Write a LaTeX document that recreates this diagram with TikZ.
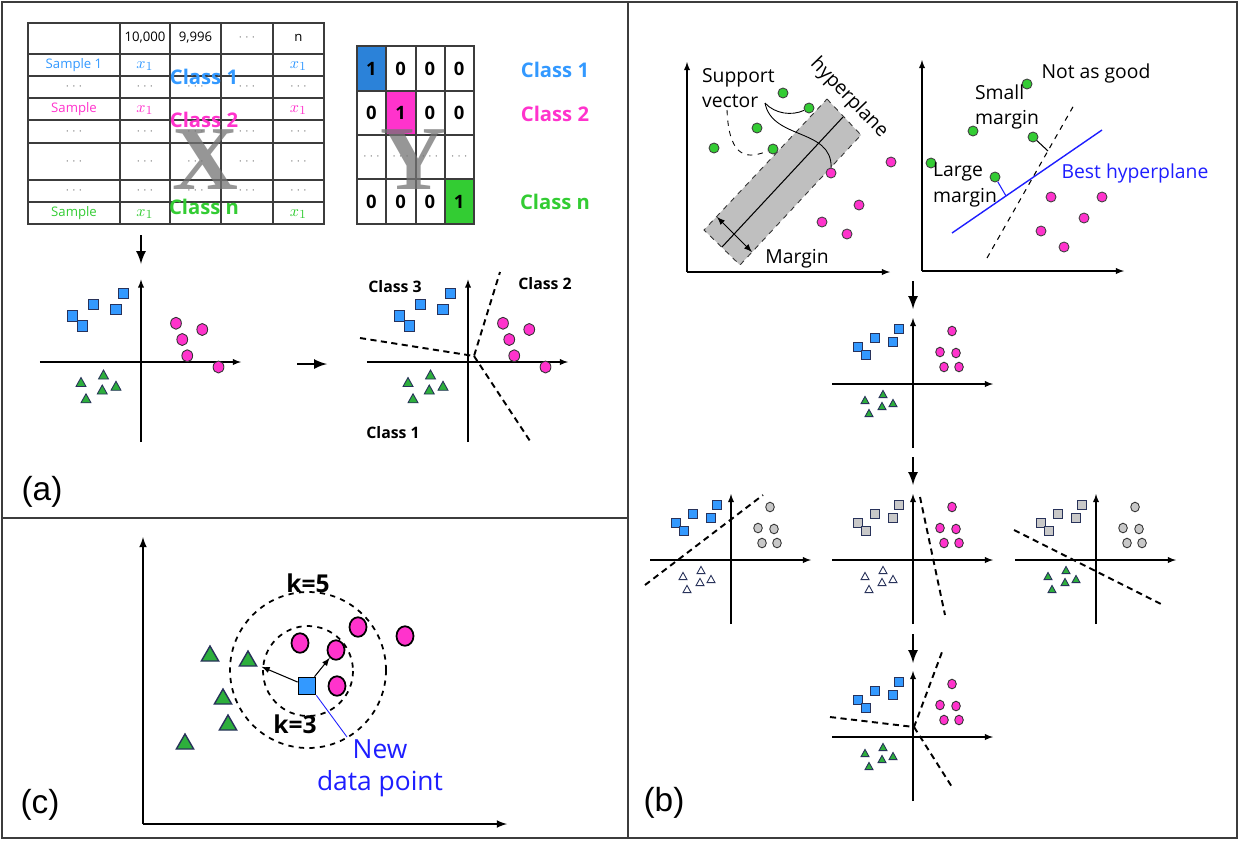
\documentclass[tikz,border=0pt]{standalone}
\usepackage{fontspec}
\setmainfont{Open Sans}
\newfontfamily\labfont{Liberation Sans}
\newfontfamily\bigserif{Liberation Serif}
\usetikzlibrary{shapes.geometric}

\definecolor{cblue}{RGB}{51,153,255}
\definecolor{cpink}{RGB}{255,51,204}
\definecolor{cgreen}{RGB}{51,204,51}
\definecolor{tgreen}{RGB}{45,175,60}
\definecolor{pgray}{RGB}{200,200,200}
\definecolor{navy}{RGB}{40,50,90}
\definecolor{dblue}{RGB}{30,30,255}
\definecolor{rule}{RGB}{60,60,60}

% the three clusters, relative to the origin of the axes
\newcommand{\sqset}[1]{\foreach \x/\y in {-14/-55,-38/-46,-20/-42,-55/-37,-47/-29}
  \filldraw[fill=#1,draw=navy,line width=.5pt] (\x,\y) +(-4.2,-4.2) rectangle +(4.2,4.2);}
\newcommand{\triset}[1]{\foreach \x/\y in {-30/11,-48/17,-31/23,-20/20,-44/30}
  \filldraw[fill=#1,draw=navy,line width=.5pt] (\x,\y) +(0,-4.6) -- +(4,2.6) -- +(-4,2.6) -- cycle;}
\newcommand{\dotset}[1]{\foreach \x/\y in {39/-53,27/-32,43/-31,31/-17,46/-17}
  \filldraw[fill=#1,draw=black!80,line width=.5pt] (\x,\y) ellipse (4.3 and 4.8);}
\newcommand{\plotaxes}{\draw[->,line width=.6pt] (-81,0) -- (80,0);
  \draw[->,line width=.6pt] (0,64) -- (0,-66);}

\begin{document}
\begin{tikzpicture}[>=latex, x=0.02cm, y=-0.02cm,
    cell/.style={font=\fontsize{7.5}{9}\selectfont},
    xone/.style={font=\fontsize{9.5}{10}\selectfont},
    cls/.style={font=\fontsize{11.5}{13}\selectfont\bfseries},
    dig/.style={font=\fontsize{10.5}{12}\selectfont\bfseries},
    big/.style={font=\bigserif\bfseries\fontsize{52}{52}\selectfont, text=black!55, opacity=.75},
    txt/.style={font=\fontsize{11}{14.5}\selectfont, align=left, inner sep=1pt},
    sdot/.style={circle, draw=black!75, line width=.5pt, minimum size=0.2cm, inner sep=0pt},
    kdot/.style={ellipse, draw=black, line width=1pt, fill=cpink, minimum width=0.34cm, minimum height=0.39cm, inner sep=0pt},
    ktri/.style={regular polygon, regular polygon sides=3, draw=navy, line width=.8pt, fill=tgreen, minimum size=0.4cm, inner sep=0pt},
    sep/.style={dash pattern=on 3.5pt off 2.5pt, line width=1.1pt},
    panel/.style={font=\labfont\fontsize{19}{19}\selectfont}]
\useasboundingbox (0,0) rectangle (1239,840);

% frame
\draw[rule, line width=1.2pt] (2,2) rectangle (1237,838);
\draw[rule, line width=1.1pt] (628,2) -- (628,838);
\draw[rule, line width=1.1pt] (2,518) -- (628,518);

% (a) table X
\draw[rule, line width=.8pt] (28,23) rectangle (324,224);
\foreach \c in {120,170,221,273} \draw[rule, line width=.8pt] (\c,23) -- (\c,224);
\foreach \r in {54,76,98,120,143,180,202} \draw[rule, line width=.8pt] (28,\r) -- (324,\r);
\node[cell] (h1) at (145,38) {10,000};
\node[cell] (h2) at (195.5,38) {9,996};
\node[cell, text=gray] (h3) at (247,38) {$\cdots$};
\node[cell] (h4) at (298.5,38) {n};
\node[cell, text=cblue] (s1) at (74,65) {Sample 1};
\node[xone, text=cblue] (x11) at (145,66) {$x_1$};
\node[xone, text=cblue] (x12) at (298.5,66) {$x_1$};
\node[cell, text=cpink] (s2) at (74,109) {Sample};
\node[xone, text=cpink] (x21) at (145,110) {$x_1$};
\node[xone, text=cpink] (x22) at (298.5,110) {$x_1$};
\node[cell, text=cgreen] (s3) at (74,213) {Sample};
\node[xone, text=cgreen] (x31) at (145,214) {$x_1$};
\node[xone, text=cgreen] (x32) at (298.5,214) {$x_1$};
\foreach \r [count=\i] in {87,131.5,161.5,191}
  \foreach \c [count=\j] in {74,145,195.5,247,298.5}
    \node[cell, text=gray] (e\i\j) at (\c,\r) {$\cdots$};
\node[big] (bx) at (205,160) {X};
\node[cls, text=cblue] (t1) at (204,77) {Class 1};
\node[cls, text=cpink] (t2) at (204,120) {Class 2};
\node[cls, text=cgreen] (tn) at (204,207) {Class n};

% (a) one-hot matrix Y
\fill[cblue!85!black] (357,46) rectangle (386,91);
\fill[cpink] (386,91) rectangle (416,135);
\fill[cgreen] (445,179) rectangle (474,224);
\draw[rule, line width=.8pt] (357,46) rectangle (474,224);
\foreach \c in {386,416,445} \draw[rule, line width=.8pt] (\c,46) -- (\c,224);
\foreach \r in {91,135,179} \draw[rule, line width=.8pt] (357,\r) -- (474,\r);
\foreach \v [count=\j] in {1,0,0,0} \node[dig] (ya\j) at (342.25+29.25*\j,68.5) {\v};
\foreach \v [count=\j] in {0,1,0,0} \node[dig] (yb\j) at (342.25+29.25*\j,113) {\v};
\foreach \j in {1,...,4} \node[cell, text=gray] (yc\j) at (342.25+29.25*\j,157) {$\cdots$};
\foreach \v [count=\j] in {0,0,0,1} \node[dig] (yd\j) at (342.25+29.25*\j,201.5) {\v};
\node[big] (by) at (413,160) {Y};
\node[cls, text=cblue] (k1) at (555,70) {Class 1};
\node[cls, text=cpink] (k2) at (555,114) {Class 2};
\node[cls, text=cgreen] (kn) at (555,202) {Class n};

% (a) scatter plots
\coordinate (a0) at (141,235);
\coordinate (a1) at (141,264);
\draw[->, line width=1.5pt] (a0) -- (a1);
\begin{scope}[shift={(141,362)}, scale=1.25]
  \plotaxes \sqset{cblue} \triset{tgreen}
  \foreach \x/\y in {28/-31,49/-26,33/-18,37/-5,62/4}
    \filldraw[fill=cpink,draw=black!80,line width=.5pt] (\x,\y) ellipse (4.3 and 4.8);
\end{scope}
\coordinate (b0) at (297,364);
\coordinate (b1) at (327,364);
\draw[->, line width=1.5pt] (b0) -- (b1);
\begin{scope}[shift={(468,362)}, scale=1.25]
  \plotaxes \sqset{cblue} \triset{tgreen}
  \foreach \x/\y in {28/-31,49/-26,33/-18,37/-5,62/4}
    \filldraw[fill=cpink,draw=black!80,line width=.5pt] (\x,\y) ellipse (4.3 and 4.8);
\end{scope}
\draw[sep] (360,338) -- (474,356) -- (500,272);
\draw[sep] (474,356) -- (532,444);
\node[font=\fontsize{9}{10}\selectfont\bfseries] (l3) at (395,287) {Class 3};
\node[font=\fontsize{9}{10}\selectfont\bfseries] (l2) at (545,284) {Class 2};
\node[font=\fontsize{9}{10}\selectfont\bfseries] (l1) at (393,433) {Class 1};
\node[panel] (pa) at (42,492) {(a)};

% (b) support vector machine
\draw[->, line width=.6pt] (687,272) -- (687,62);
\draw[->, line width=.6pt] (687,272) -- (890,272);
\filldraw[fill=black!25, draw=black!80, dashed, line width=.5pt] (827,99) -- (861,135) -- (740,265) -- (704,230) -- cycle;
\draw[line width=.6pt] (722,247) -- (843,117);
\draw[<->, line width=.6pt] (717,217) -- (752,252);
\foreach \x/\y [count=\i] in {783/93,809/108,757/128,714/148,773/149}
  \node[sdot, fill=cgreen] (g\i) at (\x,\y) {};
\foreach \x/\y [count=\i] in {891/162,831/173,859/205,822/222,847/234}
  \node[sdot, fill=cpink] (p\i) at (\x,\y) {};
\node[txt, anchor=west] (sv) at (700,88) {Support\\vector};
\node[txt, rotate=-46] (hp) at (849,98) {hyperplane};
\node[txt] (mg) at (797,259) {Margin};
\coordinate (v1) at (765,103);
\coordinate (v2) at (727,110);
\draw[line width=.5pt] (v1) .. controls (775,114) and (792,116) .. (g2);
\draw[line width=.5pt] (v1) .. controls (772,140) and (832,128) .. (p2);
\draw[line width=.5pt, dashed] (v2) .. controls (729,162) and (750,158) .. (g5);

\draw[->, line width=.6pt] (922,271) -- (922,60);
\draw[->, line width=.6pt] (922,271) -- (1124,271);
\draw[dblue, line width=.8pt] (952,233) -- (1102,130);
\draw[dashed, line width=.6pt] (987,258) -- (1074,105);
\foreach \x/\y [count=\i] in {1027/84,973/131,1033/137,931/163,995/177}
  \node[sdot, fill=cgreen] (q\i) at (\x,\y) {};
\foreach \x/\y [count=\i] in {1051/197,1102/197,1084/218,1041/231,1064/247}
  \node[sdot, fill=cpink] (r\i) at (\x,\y) {};
\coordinate (m1) at (1048,151);
\coordinate (m2) at (1006,196);
\draw[line width=.6pt] (q3) -- (m1);
\draw[dblue, line width=.6pt] (q5) -- (m2);
\node[txt] (ng) at (1096,73) {Not as good};
\node[txt, anchor=west] (sm) at (973,107) {Small\\margin};
\node[txt, anchor=west] (lm) at (931,185) {Large\\margin};
\node[txt, text=dblue] (bh) at (1135,173) {Best hyperplane};

% (b) one-vs-rest steps
\coordinate (c0) at (913,281);
\coordinate (c1) at (913,309);
\draw[->, line width=1.5pt] (c0) -- (c1);
\begin{scope}[shift={(913,384)}]
  \plotaxes \sqset{cblue} \dotset{cpink} \triset{tgreen}
\end{scope}
\coordinate (d0) at (913,457);
\coordinate (d1) at (913,485);
\draw[->, line width=1.5pt] (d0) -- (d1);
\begin{scope}[shift={(731,560)}]
  \plotaxes \sqset{cblue} \dotset{pgray} \triset{white}
  \draw[sep] (-86,25) -- (32,-65);
\end{scope}
\begin{scope}[shift={(913,560)}]
  \plotaxes \sqset{pgray} \dotset{cpink} \triset{white}
  \draw[sep] (7,-63) -- (32,55);
\end{scope}
\begin{scope}[shift={(1096,560)}]
  \plotaxes \sqset{pgray} \dotset{pgray} \triset{tgreen}
  \draw[sep] (-82,-30) -- (67,45);
\end{scope}
\coordinate (e0) at (913,634);
\coordinate (e1) at (913,663);
\draw[->, line width=1.5pt] (e0) -- (e1);
\begin{scope}[shift={(913,737)}]
  \plotaxes \sqset{cblue} \dotset{cpink} \triset{tgreen}
  \draw[sep] (-83,-20) -- (1,-10) -- (29,-85);
  \draw[sep] (1,-10) -- (39,50);
\end{scope}
\node[panel] (pb) at (664,803) {(b)};

% (c) k nearest neighbours
\draw[->, line width=1pt] (143,824) -- (143,537);
\draw[->, line width=1pt] (143,824) -- (507,824);
\draw[dashed, line width=1pt] (308,670) circle (78);
\draw[dashed, line width=1pt] (308,671) circle (45);
\foreach \x/\y [count=\i] in {210/656,248/661,223/699,228/725,185/744}
  \node[ktri] (t\i) at (\x,\y) {};
\foreach \x/\y [count=\i] in {300/643,336/650,358/627,405/636,337/686}
  \node[kdot] (c\i) at (\x,\y) {};
\node[rectangle, draw=black, line width=1pt, fill=cblue, minimum size=0.34cm, inner sep=0pt] (nq) at (307,686) {};
\draw[->, line width=.6pt, shorten >=3pt] (nq) -- (t2);
\draw[->, line width=.6pt] (nq) -- (c2);
\node[font=\fontsize{14}{16}\selectfont\bfseries] (k5) at (308,583) {k=5};
\node[font=\fontsize{14}{16}\selectfont\bfseries] (k3) at (295,724) {k=3};
\node[font=\fontsize{15}{18.5}\selectfont, text=dblue, align=center] (nd) at (380,768) {New\\data point};
\coordinate (n1) at (347,737);
\draw[dblue, line width=.5pt] (nq.south east) -- (n1);
\node[panel] (pc) at (40,805) {(c)};

\end{tikzpicture}
\end{document}
